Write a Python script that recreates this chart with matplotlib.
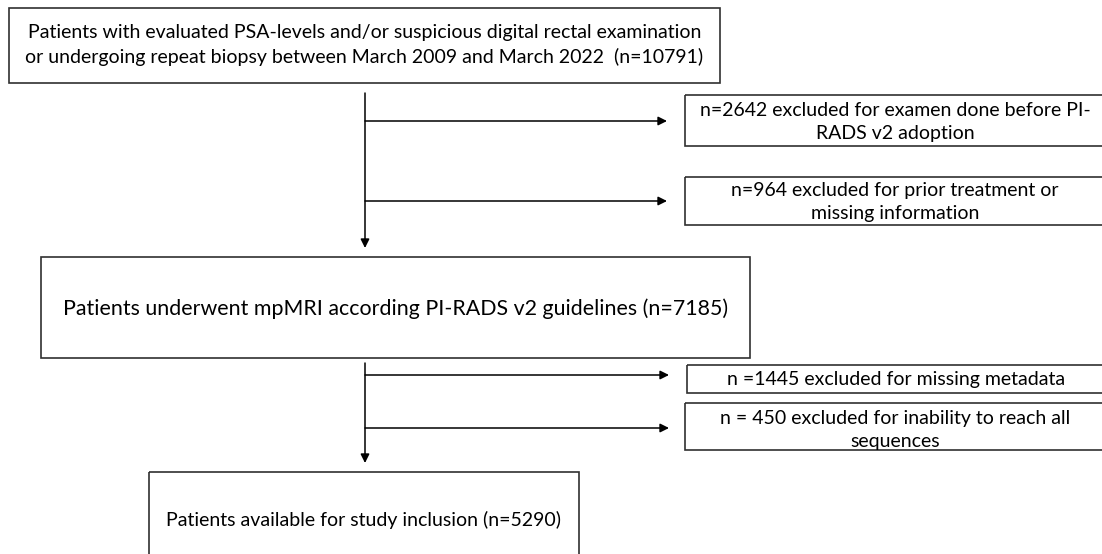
import matplotlib.pyplot as plt
from matplotlib.patches import Rectangle

# flowchart texts
main_steps = [
    "Patients with evaluated PSA-levels and/or suspicious digital rectal examination\n"
    "or undergoing repeat biopsy between March 2009 and March 2022  (n=10791)",
    "Patients underwent mpMRI according PI-RADS v2 guidelines (n=7185)",
    "Patients available for study inclusion (n=5290)",
]
exclusions = [
    "n=2642 excluded for examen done before PI-\nRADS v2 adoption",
    "n=964 excluded for prior treatment or\nmissing information",
    "n =1445 excluded for missing metadata",
    "n = 450 excluded for inability to reach all\nsequences",
]

# layout in pixels (x0, y0, x1, y1), y downwards
main_boxes = [(9, 8, 720, 83), (41, 257, 750, 358), (149, 472, 579, 580)]
main_text_y = [45, 309, 520]
main_fs = [14, 15.4, 14]
excl_boxes = [(685, 95, 1105, 146), (685, 177, 1105, 225),
              (687, 365, 1105, 393), (685, 403, 1105, 450)]
excl_text_y = [122, 202, 379, 430]
trunk_x = 365
trunks = [(93, 248), (363, 463)]
branch_y = [121, 201, 375, 428]
branch_tip = [667, 667, 669, 669]

plt.rcParams['font.family'] = ['Lato', 'DejaVu Sans']
fig = plt.figure(figsize=(11.02, 5.54), dpi=100)
ax = fig.add_axes([0, 0, 1, 1])
ax.set_xlim(0, 1102)
ax.set_ylim(554, 0)
ax.axis('off')

edge = '#303030'

for (x0, y0, x1, y1), ty, txt, fs in zip(main_boxes, main_text_y, main_steps, main_fs):
    ax.add_patch(Rectangle((x0, y0), x1 - x0, y1 - y0, fill=False, ec=edge, lw=1.2))
    ax.text((x0 + x1) / 2, ty, txt, ha='center', va='center', fontsize=fs,
            linespacing=1.5)

for (x0, y0, x1, y1), ty, txt in zip(excl_boxes, excl_text_y, exclusions):
    ax.add_patch(Rectangle((x0, y0), x1 - x0, y1 - y0, fill=False, ec=edge, lw=1.2))
    ax.text((x0 + x1) / 2, ty, txt, ha='center', va='center', fontsize=14,
            linespacing=1.45)

arrow = dict(arrowstyle='-|>', color='black', lw=1.1, mutation_scale=13,
             shrinkA=0, shrinkB=0)
for ys, ye in trunks:
    ax.annotate('', xy=(trunk_x, ye), xytext=(trunk_x, ys), arrowprops=arrow)
for by, bt in zip(branch_y, branch_tip):
    ax.annotate('', xy=(bt, by), xytext=(trunk_x, by), arrowprops=arrow)

fig.savefig('out.png', dpi=100)
